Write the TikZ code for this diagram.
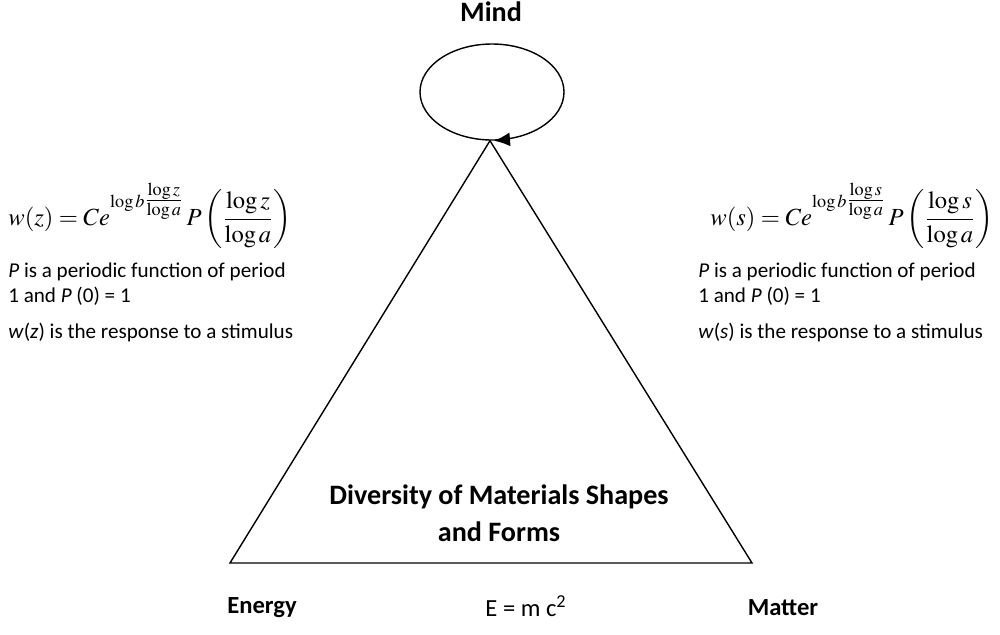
\documentclass[tikz,border=0pt]{standalone}
\usepackage{amsmath}
\usepackage{mathptmx}
\usepackage[no-math]{fontspec}
\setmainfont{Carlito}
\usetikzlibrary{arrows.meta,positioning,shapes.geometric}

\begin{document}
\begin{tikzpicture}[
  x=0.2mm, y=-0.2mm,
  every node/.style={font=\fontsize{12}{14}\selectfont},
  title/.style={font=\fontsize{14}{17}\selectfont\bfseries},
  big/.style={font=\fontsize{16}{19}\selectfont\bfseries},
  eqn/.style={font=\fontsize{14}{17}\selectfont, anchor=west, inner sep=0pt},
  note/.style={anchor=west, inner sep=0pt},
  side/.style={line width=0.8pt},
  ar/.style={-{Latex[length=3.2mm,width=2.8mm]}, line width=0.8pt}
]
\useasboundingbox (0,0) rectangle (1000,634);

% mind and its loop
\node[big] (mind) at (491,12) {Mind};
\node[draw, ellipse, line width=0.8pt, minimum width=28.8mm,
      minimum height=19.2mm, inner sep=0pt] (loop) at (492,92) {};
\draw[ar] (loop.-72) -- ([xshift=0.4mm]loop.south);

% triangle
\coordinate (apex) at ([xshift=-0.4mm]loop.south);
\coordinate (en) at (230,563);
\coordinate (ma) at (752,563);
\draw[side] (apex) -- (en) -- (ma) -- cycle;
\node[big] (div) at (499,497) {Diversity of Materials Shapes};
\node[big] (forms) at (499,532) {and Forms};

% left side
\node[eqn] (eqz) at (8,216)
  {$\displaystyle w(z) = Ce^{\raisebox{0.7ex}{$\scriptstyle\log b\genfrac{}{}{}{1}{\log z}{\log a}$}}\,P\left(\frac{\log z}{\log a}\right)$};
\node[note] (pz1) at (8,272) {\textit{P} is a periodic function of period};
\node[note] (pz2) at (8,296) {1 and \textit{P} (0) = 1};
\node[note] (wz) at (8,332) {\textit{w}(\textit{z}) is the response to a stimulus};

% right side
\node[eqn] (eqs) at (710,216)
  {$\displaystyle w(s) = Ce^{\raisebox{0.7ex}{$\scriptstyle\log b\genfrac{}{}{}{1}{\log s}{\log a}$}}\,P\left(\frac{\log s}{\log a}\right)$};
\node[note] (ps1) at (698,272) {\textit{P} is a periodic function of period};
\node[note] (ps2) at (698,296) {1 and \textit{P} (0) = 1};
\node[note] (ws) at (698,332) {\textit{w}(\textit{s}) is the response to a stimulus};

% bottom labels
\node[title] (energy) at (262,608) {Energy};
\node[font=\fontsize{14}{17}\selectfont] (emc) at (526,606) {E = m c\textsuperscript{2}};
\node[title] (matter) at (783,608) {Matter};
\end{tikzpicture}
\end{document}
